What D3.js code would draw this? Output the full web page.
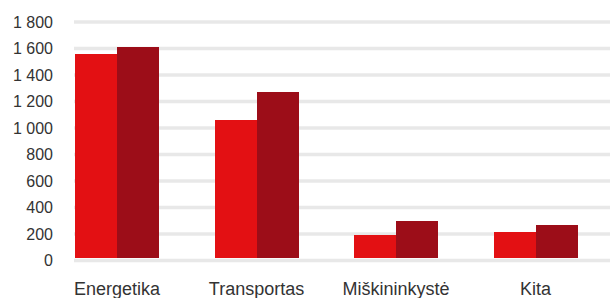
<!DOCTYPE html>
<html><head><meta charset="utf-8">
<script src="https://cdn.jsdelivr.net/npm/d3@7"></script>
<style>
html,body{margin:0;padding:0;background:#fff;}
svg{display:block;}
text{font-family:"Liberation Sans",Arial,sans-serif;fill:#333;}
</style></head>
<body>
<svg id="chart" width="610" height="298"></svg>
<script>
const categories = ["Energetika", "Transportas", "Miškininkystė", "Kita"];
const seriesNames = ["A", "B"];
const seriesA = [1560, 1060, 195, 215];
const seriesB = [1610, 1270, 300, 270];
const yTicks = [0, 200, 400, 600, 800, 1000, 1200, 1400, 1600, 1800];
const colors = ["#e31013", "#9c0d18"];

const svg = d3.select("#chart");
const plotLeft = 74, plotRight = 610;

const y = d3.scaleLinear().domain([0, 1800]).range([260.5, 22]);
const x = d3.scaleBand().domain(categories).range([75.5, 577]).paddingInner(0.405).paddingOuter(0);
const xs = d3.scaleBand().domain(seriesNames).range([0, x.bandwidth()]).padding(0);

const loc = d3.formatLocale({decimal: ",", thousands: " ", grouping: [3], currency: ["", ""]});
const fmt = loc.format(",d");

// gridlines
svg.append("g").selectAll("line").data(yTicks).join("line")
  .attr("x1", plotLeft).attr("x2", plotRight)
  .attr("y1", d => y(d)).attr("y2", d => y(d))
  .attr("stroke", "#e8e8e8").attr("stroke-width", 3.5);

// y axis labels
const yAxis = d3.axisLeft(y).tickValues(yTicks).tickFormat(d => fmt(d)).tickSize(0).tickPadding(0);
const ga = svg.append("g").attr("transform", "translate(53,0)").call(yAxis);
ga.select(".domain").remove();
ga.selectAll("text").attr("font-size", "16px").attr("fill", "#333")
  .style("font-family", "'Liberation Sans', Arial, sans-serif");

// bars
const rows = categories.map((c, i) => ({cat: c, vals: [seriesA[i], seriesB[i]]}));
const groups = svg.append("g").selectAll("g").data(rows).join("g")
  .attr("transform", d => `translate(${Math.round(x(d.cat))},0)`);
groups.selectAll("rect").data(d => d.vals.map((v, j) => ({s: seriesNames[j], v, j}))).join("rect")
  .attr("x", d => Math.round(xs(d.s)))
  .attr("width", d => Math.round(xs.bandwidth()) + (d.j === 0 ? 0.5 : 0))
  .attr("y", d => y(d.v))
  .attr("height", d => 258 - y(d.v))
  .attr("fill", d => colors[d.j])
  .attr("shape-rendering", "crispEdges");

// x labels
const xAxis = d3.axisBottom(x).tickSize(0).tickPadding(0);
const gx = svg.append("g").attr("transform", "translate(0,282)").call(xAxis);
gx.select(".domain").remove();
gx.selectAll("text").attr("font-size", "18px").attr("fill", "#333")
  .style("font-family", "'Liberation Sans', Arial, sans-serif");
</script>
</body></html>
